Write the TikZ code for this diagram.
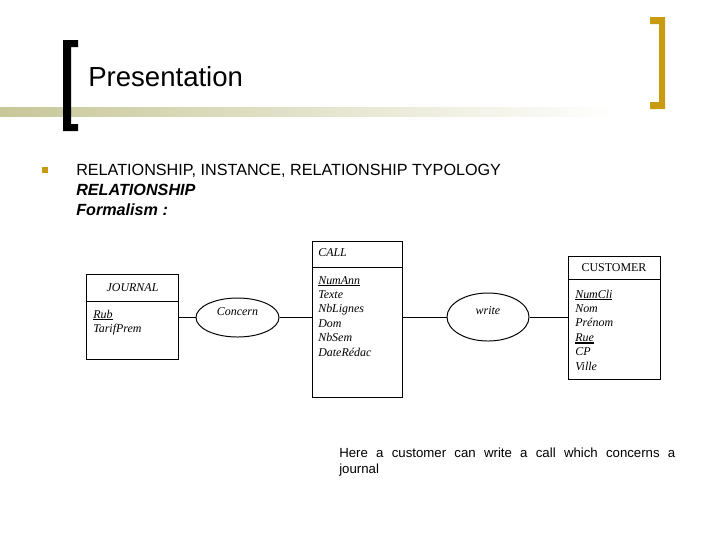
\documentclass[tikz,border=0pt]{standalone}
\usepackage{fontspec}
\setmainfont{Liberation Serif}
\setsansfont{Liberation Sans}
\usepackage{xcolor}
\definecolor{PresGold}{HTML}{C99B12}
\definecolor{PresOlive}{HTML}{C8C799}
\usepackage{tikz}
\usetikzlibrary{positioning,shapes.geometric}
\newcommand{\keyattr}[1]{\setbox0=\hbox{#1}\rlap{\rule[-1.7pt]{\wd0}{1.1pt}}\box0}

\begin{document}
\begin{tikzpicture}[x=0.025cm,y=-0.025cm,
  slide/.style={anchor=base west,inner sep=0pt,font=\sffamily\fontsize{11.5}{13}\selectfont},
  ent/.style={draw,line width=0.7pt,inner sep=0pt,outer sep=0pt,font=\rmfamily\itshape\fontsize{8.5}{10.2}\selectfont},
  attr/.style={anchor=base west,inner sep=0pt,font=\rmfamily\itshape\fontsize{8.5}{10.2}\selectfont},
  rel/.style={ellipse,draw,line width=0.7pt,inner sep=0pt,text height=5pt,text depth=8pt,
    font=\rmfamily\itshape\fontsize{8.5}{10.2}\selectfont},
  link/.style={line width=0.7pt}
]
  \useasboundingbox (0,0) rectangle (720,540);
  % slide frame
  \shade[left color=PresOlive,right color=white] (0,107) rectangle (620,116);
  \fill (63,40) -- (78,40) -- (78,47) -- (71,47) -- (71,124) -- (78,124) -- (78,131) -- (63,131) -- cycle;
  \fill[PresGold] (665,17) -- (650,17) -- (650,24) -- (659,24) -- (659,102) -- (650,102) -- (650,109) -- (665,109) -- cycle;
  \node[anchor=base west,inner sep=0pt,font=\sffamily\fontsize{19.6}{22}\selectfont] (title) at (88,86) {Presentation};
  \fill[PresGold] (42,167) rectangle (48,173);
  \node[slide] (typo) at (76,175) {RELATIONSHIP, INSTANCE, RELATIONSHIP TYPOLOGY};
  \node[slide,font=\sffamily\bfseries\itshape\fontsize{11.5}{13}\selectfont] (relhead) at (76,195) {RELATIONSHIP};
  \node[slide,font=\sffamily\bfseries\itshape\fontsize{11.5}{13}\selectfont] (formal) at (76,215) {Formalism :};

  % entities
  \node[ent,minimum width=2.275cm,minimum height=0.675cm] (journalh) at (132.5,287.5) {JOURNAL};
  \node[ent,minimum width=2.275cm,minimum height=1.45cm,below=0pt of journalh] (journalb) {};
  \node[ent,minimum width=2.25cm,minimum height=0.65cm] (callh) at (357,254) {};
  \node[ent,minimum width=2.25cm,minimum height=3.25cm,below=0pt of callh] (callb) {};
  \node[attr] (calltitle) at (318,256) {CALL};
  \node[ent,font=\rmfamily\upshape\fontsize{8.5}{10.2}\selectfont,minimum width=2.3cm,minimum height=0.575cm] (custh) at (614,267.5) {CUSTOMER};
  \node[ent,minimum width=2.3cm,minimum height=2.5cm,below=0pt of custh] (custb) {};

  \foreach \t [count=\i] in {\keyattr{Rub},TarifPrem}
    \node[attr] (ja\i) at (93,{318+14.2*(\i-1)}) {\t};
  \foreach \t [count=\i] in {\keyattr{NumAnn},Texte,NbLignes,Dom,NbSem,DateRédac}
    \node[attr] (ca\i) at (318,{284+14.4*(\i-1)}) {\t};
  \foreach \t [count=\i] in {\keyattr{NumCli},Nom,Prénom,\keyattr{Rue},CP,Ville}
    \node[attr] (ua\i) at (575,{298+14.4*(\i-1)}) {\t};

  % relationships
  \node[rel,minimum width=2.075cm,minimum height=0.975cm] (concern) at (237.5,317.5) {Concern};
  \node[rel,minimum width=2.05cm,minimum height=1.2cm] (write) at (488,317) {write};
  \draw[link] (journalb.east |- concern.west) -- (concern.west);
  \draw[link] (concern.east) -- (concern.east -| callb.west);
  \draw[link] (callb.east |- write.west) -- (write.west);
  \draw[link] (write.east) -- (write.east -| custb.west);

  \node[anchor=north west,inner sep=0pt,text width=8.4cm,align=justify,
    font=\sffamily\fontsize{9.4}{11.4}\selectfont] (note) at (339,448)
    {Here a customer can write a call which concerns a\linebreak journal};
\end{tikzpicture}
\end{document}
